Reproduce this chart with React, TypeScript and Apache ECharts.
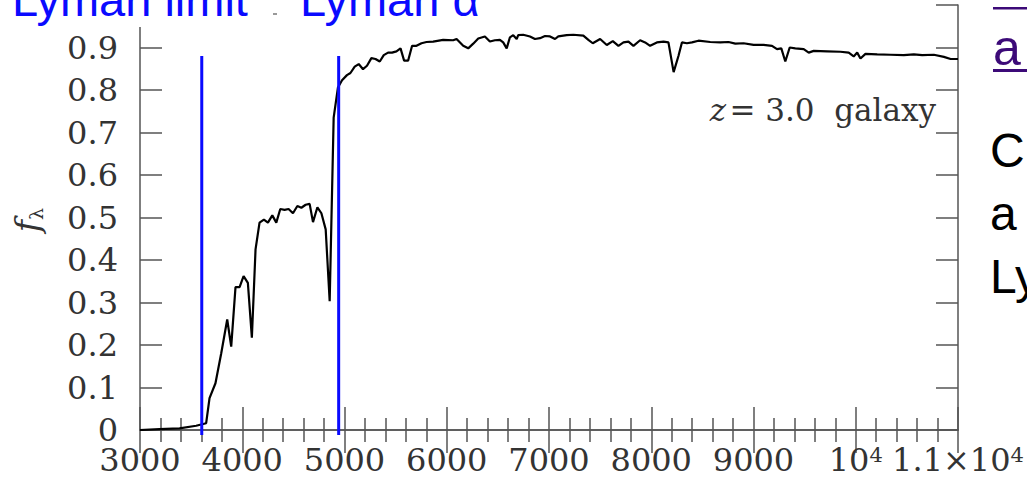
import { useEffect, useRef } from 'react';
import * as echarts from 'echarts';

const wavelengths = [
  3000, 3190, 3386, 3549, 3647, 3680, 3738, 3794, 3853, 3892,
  3934, 3974, 4013, 4055, 4094, 4130, 4169, 4212, 4251, 4294,
  4333, 4372, 4414, 4453, 4496, 4539, 4578, 4620, 4659, 4692,
  4735, 4774, 4816, 4855, 4894, 4936, 4976, 5024, 5058, 5100,
  5139, 5181, 5220, 5263, 5303, 5345, 5384, 5426, 5465, 5508,
  5548, 5583, 5622, 5661, 5704, 5753, 5802, 5867, 5965, 6063,
  6096, 6161, 6210, 6259, 6308, 6373, 6422, 6471, 6520, 6552,
  6586, 6618, 6650, 6684, 6699, 6748, 6814, 6863, 6912, 6961,
  7010, 7059, 7091, 7173, 7238, 7336, 7385, 7428, 7500, 7565,
  7624, 7679, 7728, 7777, 7826, 7891, 7940, 7989, 8055, 8120,
  8168, 8219, 8266, 8300, 8349, 8398, 8462, 8577, 8675, 8756,
  8822, 8903, 9001, 9099, 9181, 9230, 9272, 9311, 9354, 9409,
  9491, 9540, 9589, 9720, 9850, 9931, 9980, 10014, 10046, 10095,
  10210, 10340, 10470, 10568, 10650, 10764, 10862, 10928, 11000,
];

const fluxes = [
  0.000, 0.002, 0.004, 0.010, 0.016, 0.075, 0.110, 0.180, 0.260, 0.196,
  0.336, 0.336, 0.362, 0.346, 0.217, 0.425, 0.488, 0.495, 0.488, 0.505,
  0.488, 0.520, 0.518, 0.520, 0.510, 0.527, 0.523, 0.530, 0.532, 0.489,
  0.524, 0.510, 0.472, 0.303, 0.735, 0.806, 0.823, 0.835, 0.840, 0.855,
  0.861, 0.849, 0.857, 0.875, 0.873, 0.867, 0.882, 0.888, 0.888, 0.891,
  0.898, 0.869, 0.869, 0.904, 0.904, 0.910, 0.913, 0.914, 0.918, 0.917,
  0.920, 0.904, 0.898, 0.909, 0.921, 0.926, 0.914, 0.917, 0.918, 0.912,
  0.898, 0.924, 0.929, 0.920, 0.929, 0.930, 0.926, 0.920, 0.922, 0.927,
  0.926, 0.920, 0.926, 0.929, 0.930, 0.928, 0.918, 0.910, 0.920, 0.906,
  0.915, 0.904, 0.912, 0.914, 0.904, 0.917, 0.912, 0.904, 0.912, 0.914,
  0.912, 0.842, 0.880, 0.912, 0.910, 0.912, 0.916, 0.913, 0.912, 0.913,
  0.909, 0.910, 0.906, 0.906, 0.904, 0.896, 0.898, 0.867, 0.900, 0.898,
  0.896, 0.888, 0.892, 0.891, 0.890, 0.888, 0.879, 0.888, 0.874, 0.885,
  0.884, 0.883, 0.882, 0.884, 0.882, 0.883, 0.878, 0.873, 0.873,
];

// Vertical marker lines (Lyman limit, Lyman alpha at z=3)
const markerWavelengths = [3604, 4943];
const markerRange = [-0.012, 0.88];

const xMin = 3000;
const xMax = 11000;
const xStep = 1000;
const yMin = 0;
const yMax = 1;
const yStep = 0.1;

const xTickLabels: Record<number, string> = {
  3000: '{a|3000}',
  4000: '{a|4000}',
  5000: '{a|5000}',
  6000: '{a|6000}',
  7000: '{a|7000}',
  8000: '{a|8000}',
  9000: '{a|9000}',
  10000: '{a|10}{s|4}',
  11000: '{a|1.1×10}{s|4}',
};

const SERIF = '"DejaVu Serif", serif';
const SANS = '"Liberation Sans", Arial, sans-serif';
const AXIS_COLOR = '#555';
const LABEL_COLOR = '#333';

export default function App() {
  const ref = useRef<HTMLDivElement>(null);

  useEffect(() => {
    if (!ref.current) return;
    const chart = echarts.init(ref.current, null, { renderer: 'svg' });

    const spectrum = wavelengths.map((w, i) => [w, fluxes[i]]);

    const axisCommon = {
      type: 'value' as const,
      axisLine: { show: true, lineStyle: { color: AXIS_COLOR, width: 1.5 } },
      splitLine: { show: false },
    };

    const option: any = {
      animation: false,
      backgroundColor: '#fff',
      grid: { left: 140, right: 69, top: 5, bottom: 49, containLabel: false },
      xAxis: [
        {
          ...axisCommon,
          position: 'bottom',
          min: xMin,
          max: xMax,
          interval: xStep,
          axisTick: { show: true, inside: true, length: 23, lineStyle: { color: AXIS_COLOR, width: 1.5 } },
          minorTick: { show: true, splitNumber: 5, length: 12, lineStyle: { color: AXIS_COLOR, width: 1.5 } },
          axisLabel: {
            show: true,
            margin: 14,
            showMaxLabel: true,
            showMinLabel: true,
            formatter: (v: number) => xTickLabels[Math.round(v)] ?? '',
            rich: {
              a: { fontFamily: SERIF, fontSize: 32, color: LABEL_COLOR, lineHeight: 32 },
              s: { fontFamily: SERIF, fontSize: 21, color: LABEL_COLOR, lineHeight: 21, verticalAlign: 'top' },
            },
          },
        },
        {
          ...axisCommon,
          position: 'top',
          min: xMin,
          max: xMax,
          interval: xStep,
          axisTick: { show: true, inside: true, length: 23, lineStyle: { color: AXIS_COLOR, width: 1.5 } },
          minorTick: { show: true, splitNumber: 5, length: 12, lineStyle: { color: AXIS_COLOR, width: 1.5 } },
          axisLabel: { show: false },
        },
      ],
      yAxis: [
        {
          ...axisCommon,
          position: 'left',
          min: yMin,
          max: yMax,
          interval: yStep,
          axisTick: { show: true, inside: true, length: 22, lineStyle: { color: AXIS_COLOR, width: 1.5 } },
          axisLabel: {
            show: true,
            margin: 22,
            fontFamily: SERIF,
            fontSize: 32,
            color: LABEL_COLOR,
            formatter: (v: number) => {
              if (Math.abs(v - 1) < 1e-6) return '';
              if (Math.abs(v) < 1e-6) return '0';
              return v.toFixed(1);
            },
          },
        },
        {
          ...axisCommon,
          position: 'right',
          min: yMin,
          max: yMax,
          interval: yStep,
          axisTick: { show: true, inside: true, length: 22, lineStyle: { color: AXIS_COLOR, width: 1.5 } },
          axisLabel: { show: false },
        },
      ],
      series: [
        {
          type: 'line',
          data: spectrum,
          xAxisIndex: 0,
          yAxisIndex: 0,
          symbol: 'none',
          lineStyle: { color: '#000', width: 2.2 },
          z: 3,
        },
        ...markerWavelengths.map((w) => ({
          type: 'line',
          data: markerRange.map((y) => [w, y]),
          xAxisIndex: 0,
          yAxisIndex: 0,
          symbol: 'none',
          clip: false,
          lineStyle: { color: '#0a0aff', width: 3 },
          z: 4,
        })),
      ],
      graphic: [
        { type: 'rect', z: 100, shape: { x: 0, y: 0, width: 523, height: 27 }, style: { fill: '#fff' } },
        {
          type: 'text', z: 101, x: 12, y: -0.5,
          style: { text: 'Lyman limit', fontFamily: SANS, fontSize: 47, fill: '#0a0aff', align: 'left', verticalAlign: 'middle' },
        },
        {
          type: 'line', z: 101, shape: { x1: 273, y1: 14, x2: 277, y2: 14 }, style: { stroke: '#777', lineWidth: 1.5 },
        },
        {
          type: 'text', z: 101, x: 300, y: -0.5,
          style: { text: 'Lyman α', fontFamily: SANS, fontSize: 47, fill: '#0a0aff', align: 'left', verticalAlign: 'middle' },
        },
        {
          type: 'text', z: 101, x: 936, y: 109.5,
          style: {
            text: '{i|z} {n|= 3.0  galaxy}',
            align: 'right',
            verticalAlign: 'middle',
            rich: {
              i: { fontFamily: SERIF, fontStyle: 'italic', fontSize: 31, fill: '#333' },
              n: { fontFamily: SERIF, fontSize: 31, fill: '#333' },
            },
          },
        },
        {
          type: 'text', z: 101, x: 27, y: 220, rotation: Math.PI / 2,
          style: {
            text: '{f|f}{l|λ}',
            align: 'center',
            verticalAlign: 'middle',
            rich: {
              f: { fontFamily: SERIF, fontStyle: 'italic', fontSize: 33, fill: '#333', lineHeight: 36 },
              l: { fontFamily: SERIF, fontSize: 19, fill: '#333', lineHeight: 19, verticalAlign: 'bottom' },
            },
          },
        },
        // right-hand slide text, cut off by the page edge
        { type: 'rect', z: 101, shape: { x: 993, y: 7, width: 40, height: 2.5 }, style: { fill: '#3c0a78' } },
        {
          type: 'text', z: 101, x: 993, y: 47.5,
          style: { text: 'a', fontFamily: SANS, fontSize: 50, fill: '#3c0a78', align: 'left', verticalAlign: 'middle' },
        },
        { type: 'rect', z: 101, shape: { x: 993, y: 69, width: 40, height: 3 }, style: { fill: '#3c0a78' } },
        {
          type: 'text', z: 101, x: 990, y: 150.5,
          style: { text: 'C', fontFamily: SANS, fontSize: 48, fill: '#000', align: 'left', verticalAlign: 'middle' },
        },
        {
          type: 'text', z: 101, x: 990, y: 213.5,
          style: { text: 'a', fontFamily: SANS, fontSize: 48, fill: '#000', align: 'left', verticalAlign: 'middle' },
        },
        {
          type: 'text', z: 101, x: 990, y: 276.5,
          style: { text: 'Ly', fontFamily: SANS, fontSize: 48, fill: '#000', align: 'left', verticalAlign: 'middle' },
        },
      ],
    };

    chart.setOption(option);
    return () => chart.dispose();
  }, []);

  return (
    <div
      ref={ref}
      style={{ position: 'fixed', left: 0, top: 0, width: 1027, height: 479, background: '#fff' }}
    />
  );
}
